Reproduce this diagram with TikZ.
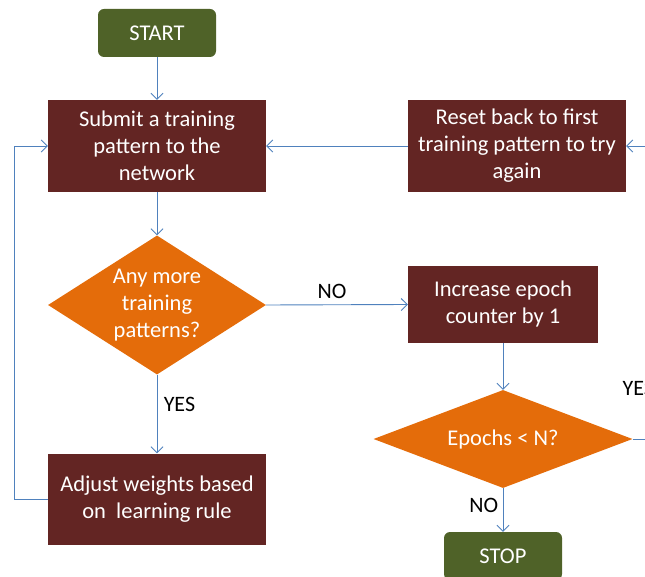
\documentclass[tikz,border=0pt]{standalone}
\usepackage{fontspec}
\setmainfont{Carlito}
\usetikzlibrary{shapes.geometric,arrows.meta}
\definecolor{stepred}{HTML}{632523}
\definecolor{endgreen}{HTML}{4F6228}
\definecolor{askorange}{HTML}{E46C0A}
\definecolor{flowblue}{HTML}{4F81BD}
\begin{document}
\begin{tikzpicture}[x=1pt,y=-1pt]
	% Styles of the boxes and lines
	\tikzset{
		stepbox/.style={rectangle,fill=stepred,text=white,align=center,
			minimum width=218pt,minimum height=92pt,inner sep=0pt,
			font=\fontsize{22.5}{27}\selectfont},
		endbox/.style={rectangle,rounded corners=6pt,fill=endgreen,text=white,
			minimum width=118pt,minimum height=48pt,inner sep=0pt,
			font=\fontsize{22.5}{27}\selectfont},
		askbox/.style={diamond,fill=askorange,text=white,align=center,inner sep=0pt,
			font=\fontsize{22.5}{27}\selectfont},
		flow/.style={draw=flowblue,line width=0.9pt,-{Straight Barb[length=6pt,width=12pt]}},
		answer/.style={font=\fontsize{22}{24}\selectfont}
	}
	\useasboundingbox (0,0) rectangle (645,577);
	\clip (0,0) rectangle (645,577);

	% Boxes
	\node [endbox] (start) at (157,33) {START};
	\node [stepbox] (submit) at (157,146) {Submit a training\\pattern to the\\network};
	\node [stepbox] (reset) at (517,146) {Reset back to first\\training pattern to try\\again};
	\node [askbox,aspect=1.57,minimum width=218pt,minimum height=139pt] (more) at (157,305) {Any more\\training\\patterns?};
	\node [stepbox,minimum width=190pt,minimum height=77pt] (epoch) at (503,304.5) {Increase epoch\\counter by 1};
	\node [askbox,aspect=2.64,minimum width=259pt,minimum height=98pt] (check) at (503,439) {Epochs < N?};
	\node [endbox] (stop) at (503,556) {STOP};
	\node [stepbox,minimum height=91pt] (adjust) at (157,499) {Adjust weights based\\on\ \ learning rule};

	% Corners of the loops
	\coordinate (leftc) at (14,0);
	\coordinate (rightc) at (670,0);

	% Lines
	\draw [flow] (start) -- (submit);
	\draw [flow] (submit) -- (more);
	\draw [flow] (more) -- node [answer,right,pos=0.38,xshift=3pt] {YES} (adjust);
	\draw [flow] (more.east) -- node [answer,above,xshift=-5pt,yshift=2pt] {NO} (epoch.west);
	\draw [flow] (epoch) -- (check);
	\draw [flow] (check.south) -- node [answer,left,pos=0.4,xshift=-1pt] {NO} (stop.north);
	\draw [flow] (adjust.west) -| (leftc |- submit.west) -- (submit.west);
	\draw [flow] (reset.west) -- (submit.east);
	\draw [flow] (check.east) -- (rightc |- check.east) |- (reset.east);
	\node [answer,anchor=west] (yes) at (619,388) {YES};
\end{tikzpicture}
\end{document}
